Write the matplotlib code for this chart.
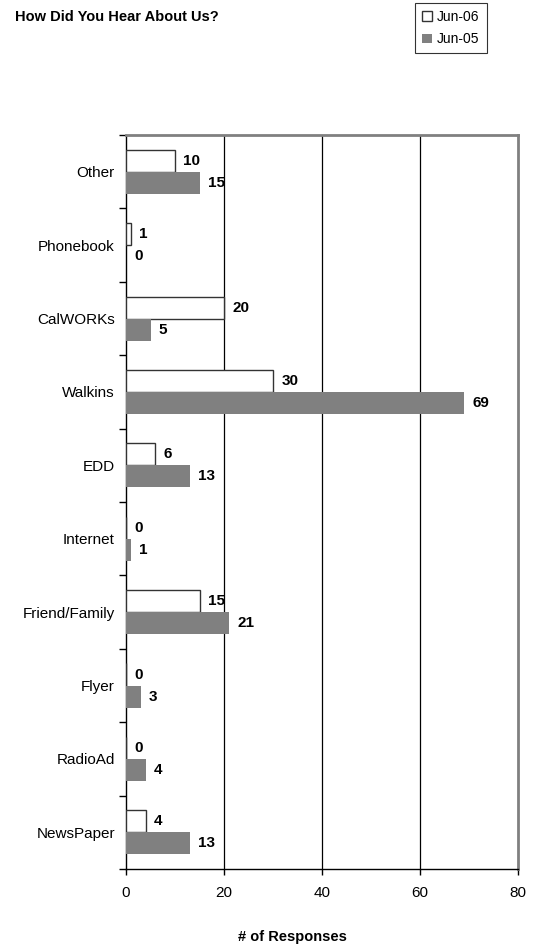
import numpy as np
import matplotlib.pyplot as plt

plt.rcParams['font.family'] = ['Liberation Sans', 'DejaVu Sans']

# categories bottom to top
categories = ['NewsPaper', 'RadioAd', 'Flyer', 'Friend/Family', 'Internet',
              'EDD', 'Walkins', 'CalWORKs', 'Phonebook', 'Other']
jun06 = [4, 0, 0, 15, 0, 6, 30, 20, 1, 10]
jun05 = [13, 4, 3, 21, 1, 13, 69, 5, 0, 15]
xticks = [0, 20, 40, 60, 80]

fig = plt.figure(figsize=(5.42, 9.49), dpi=100)
ax = fig.add_axes([0.2325, 0.0843, 0.7232, 0.7734])

y = np.arange(len(categories))
h = 0.3
b06 = ax.barh(y + h / 2, jun06, height=h, color='white', edgecolor='#333333',
              linewidth=1.0, label='Jun-06', zorder=3)
b05 = ax.barh(y - h / 2, jun05, height=h, color='#808080', linewidth=0,
              label='Jun-05', zorder=3)

# value labels
for yy, v in zip(y + h / 2, jun06):
    ax.annotate(str(v), (v, yy), xytext=(6, 0), textcoords='offset points',
                va='center', ha='left', fontsize=11, fontweight='bold')
for yy, v in zip(y - h / 2, jun05):
    ax.annotate(str(v), (v, yy), xytext=(6, 0), textcoords='offset points',
                va='center', ha='left', fontsize=11, fontweight='bold')

ax.set_xlim(0, 80)
ax.set_ylim(-0.5, len(categories) - 0.5)
ax.set_xticks(xticks)
ax.set_xticklabels([str(t) for t in xticks], fontsize=11)
ax.tick_params(axis='x', direction='out', length=4, width=1, pad=8)

ax.set_yticks(y)
ax.set_yticklabels(categories, fontsize=11)
ax.tick_params(axis='y', which='major', length=0, pad=8)
ax.set_yticks(np.arange(len(categories) + 1) - 0.5, minor=True)
ax.tick_params(axis='y', which='minor', direction='out', length=5, width=1)

for g in [20, 40, 60]:
    ax.axvline(g, color='black', linewidth=0.9, zorder=1)

ax.spines['left'].set_color('black')
ax.spines['bottom'].set_color('black')
ax.spines['left'].set_linewidth(1.0)
ax.spines['bottom'].set_linewidth(1.0)
ax.spines['top'].set_color('#808080')
ax.spines['right'].set_color('#808080')
ax.spines['top'].set_linewidth(2)
ax.spines['right'].set_linewidth(2)

fig.text(15 / 542, 1 - 17 / 949, 'How Did You Hear About Us?', fontsize=10.5,
         fontweight='bold', va='center', ha='left')
fig.text(292 / 542, 1 - 937 / 949, '# of Responses', fontsize=10.5,
         fontweight='bold', va='center', ha='center')

leg = fig.legend(handles=[b06, b05], loc='upper left',
                 bbox_to_anchor=(415 / 542, 1 - 3 / 949), fontsize=10,
                 frameon=True, fancybox=False, edgecolor='black',
                 handlelength=0.7, handleheight=0.7, handletextpad=0.4,
                 borderpad=0.5, labelspacing=0.6, borderaxespad=0)
leg.get_frame().set_linewidth(0.8)

fig.savefig('out.png', dpi=100)
